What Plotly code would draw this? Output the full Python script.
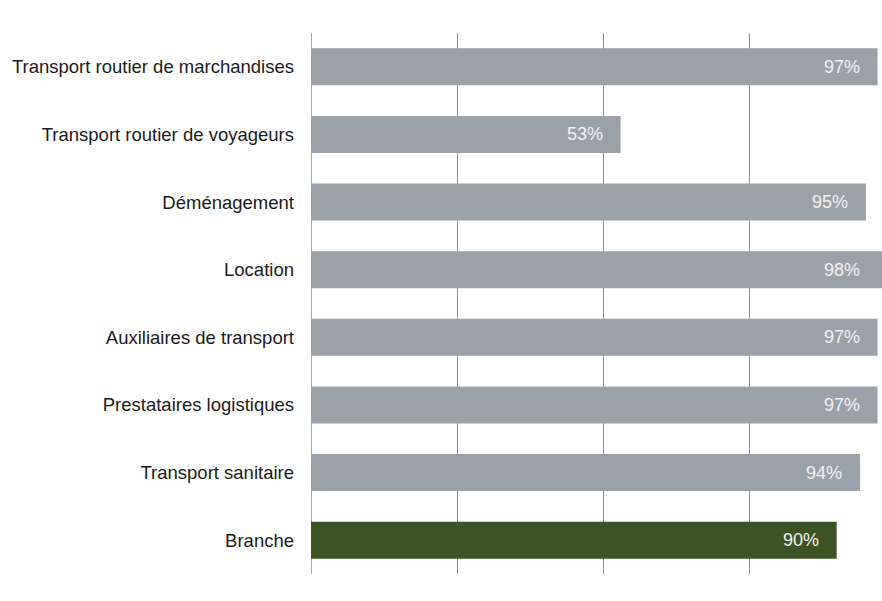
import plotly.graph_objects as go

categories = [
    "Transport routier de marchandises",
    "Transport routier de voyageurs",
    "Déménagement",
    "Location",
    "Auxiliaires de transport",
    "Prestataires logistiques",
    "Transport sanitaire",
    "Branche",
]
values = [0.97, 0.53, 0.95, 0.98, 0.97, 0.97, 0.94, 0.90]
labels = ["97%", "53%", "95%", "98%", "97%", "97%", "94%", "90%"]
colors = ["#9BA1A9"] * 7 + ["#3E5323"]

XMAX = 0.9776

fig = go.Figure()
fig.add_trace(go.Bar(
    y=categories, x=values, orientation="h",
    marker=dict(color=colors, line=dict(width=0)),
    hoverinfo="skip",
))

for c, v, t in zip(categories, values, labels):
    xv = min(v, XMAX - 0.002)
    shift = -16 - (v - xv) * 584
    fig.add_annotation(x=xv, y=c, text=t, showarrow=False,
                       xanchor="right", xshift=shift,
                       font=dict(family="Liberation Sans, Arial", size=18, color="#F2F2F2"))

fig.update_layout(
    width=882, height=601,
    margin=dict(l=311, r=0, t=33, b=27),
    plot_bgcolor="white", paper_bgcolor="white",
    bargap=0.453,
    showlegend=False,
    font=dict(family="Liberation Sans, Arial", size=18.5, color="#1A1A1A"),
)
fig.update_xaxes(range=[0, XMAX], tickvals=[0, 0.25, 0.5, 0.75],
                 showticklabels=False, showgrid=True, gridcolor="#8E8E8E",
                 gridwidth=1, zeroline=True, zerolinecolor="#A8A8A8",
                 zerolinewidth=1, showline=False)
fig.update_yaxes(autorange="reversed", showgrid=False, zeroline=False,
                 showline=False, ticks="", ticklabelstandoff=16)

fig.write_html("out.html",
               config={"displayModeBar": False},
               post_script="document.body.style.margin='0';document.body.style.overflow='hidden';")
